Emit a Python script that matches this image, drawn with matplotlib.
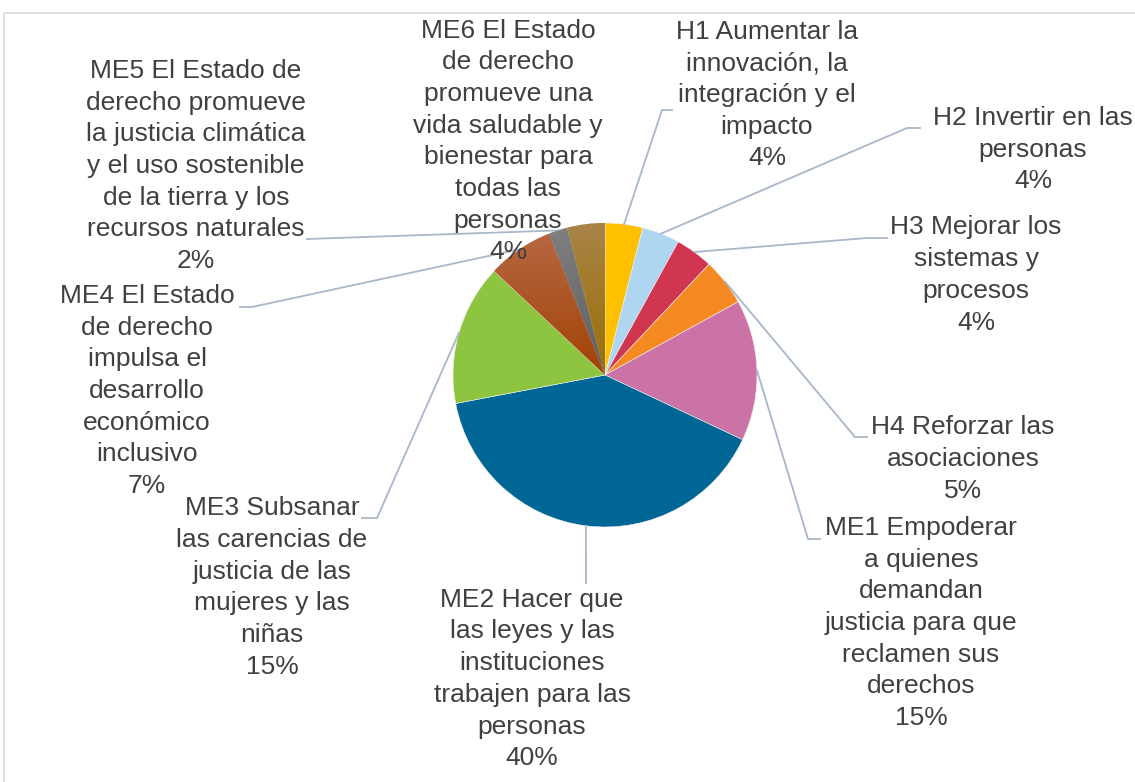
import numpy as np
import matplotlib
matplotlib.use("Agg")
import matplotlib.pyplot as plt
from matplotlib.colors import LinearSegmentedColormap

plt.rcParams['font.family'] = ['Liberation Sans', 'DejaVu Sans']

# ---------------- data ----------------
labels = [
    "H1 Aumentar la\ninnovación, la\nintegración y el\nimpacto",
    "H2 Invertir en las\npersonas",
    "H3 Mejorar los\nsistemas y\nprocesos",
    "H4 Reforzar las\nasociaciones",
    "ME1 Empoderar\na quienes\ndemandan\njusticia para que\nreclamen sus\nderechos",
    "ME2 Hacer que\nlas leyes y las\ninstituciones\ntrabajen para las\npersonas",
    "ME3 Subsanar\nlas carencias de\njusticia de las\nmujeres y las\nniñas",
    "ME4 El Estado\nde derecho\nimpulsa el\ndesarrollo\neconómico\ninclusivo",
    "ME5 El Estado de\nderecho promueve\nla justicia climática\ny el uso sostenible\nde la tierra y los\nrecursos naturales",
    "ME6 El Estado\nde derecho\npromueve una\nvida saludable y\nbienestar para\ntodas las\npersonas",
]
values = [4, 4, 4, 5, 15, 40, 15, 7, 2, 4]
pct_labels = ["4%", "4%", "4%", "5%", "15%", "40%", "15%", "7%", "2%", "4%"]

# ---------------- style / layout ----------------
W, H = 1135, 782
colors = ["#FFC000", "#AED6F1", "#D13651", "#F58A22", "#CB73A6",
          "#006695", "#8DC540", "#A84F22", "#6E6E6E", "#A07A22"]
# gradient (top, bottom) for slices drawn with gradient fill
gradients = {7: ("#B86A48", "#A04000"),
             8: ("#808080", "#5E5E5E"),
             9: ("#A98448", "#9A6D00")}
cx, cy, R = 605, 375, 152          # image pixel coords
label_pos = [(767, 95), (1033, 149.5), (976, 275), (963, 459), (921, 623),
             (532, 679), (272, 587.5), (147, 391), (196, 166), (508, 141.5)]
leader_pts = [
    [(672, 110), (662, 110)],
    [(920, 128), (907, 128)],
    [(887, 238), (867, 238)],
    [(867, 437), (855, 437)],
    [(820, 539), (808, 539)],
    [(586, 583)],
    [(362, 518), (377, 518)],
    [(240, 307), (252, 307)],
    [(307, 239)],
    None,
]
text_color = "#404040"
line_color = "#A9B7C9"

fig = plt.figure(figsize=(W / 100, H / 100), dpi=100)
ax = fig.add_axes([0, 0, 1, 1])

def Y(y):
    return H - y

wedges, _ = ax.pie(values, colors=colors, startangle=90, counterclock=False,
                   center=(cx, Y(cy)), radius=R, frame=True,
                   wedgeprops=dict(edgecolor="#F2F2F2", linewidth=0.4))
ax.set_xlim(0, W)
ax.set_ylim(0, H)
ax.axis("off")

# border of chart area
ax.plot([4, W], [Y(13), Y(13)], color="#D9D9D9", lw=1.2, solid_capstyle="butt")
ax.plot([4, 4], [Y(13), 0], color="#D9D9D9", lw=1.2, solid_capstyle="butt")

# gradient fills
for i, (ctop, cbot) in gradients.items():
    w = wedges[i]
    cmap = LinearSegmentedColormap.from_list("g%d" % i, [cbot, ctop])
    grad = np.linspace(0, 1, 256).reshape(-1, 1)
    im = ax.imshow(grad, cmap=cmap, origin="lower", aspect="auto",
                   extent=(cx - R, cx + R, Y(cy) - R * 0.05, Y(cy) + R),
                   zorder=w.get_zorder() + 0.1, interpolation="bilinear")
    im.set_clip_path(w)
ax.set_xlim(0, W)
ax.set_ylim(0, H)

# leader lines
for i, w in enumerate(wedges):
    pts = leader_pts[i]
    if pts is None:
        continue
    mid = np.deg2rad((w.theta1 + w.theta2) / 2)
    ex, ey = cx + R * np.cos(mid), Y(cy) + R * np.sin(mid)
    xs = [p[0] for p in pts] + [ex]
    ys = [Y(p[1]) for p in pts] + [ey]
    ax.plot(xs, ys, color=line_color, lw=1.3, zorder=1)

# labels
for i, (lab, pct) in enumerate(zip(labels, pct_labels)):
    x, y = label_pos[i]
    ax.text(x, Y(y), lab + "\n" + pct, ha="center", va="center",
            multialignment="center", fontsize=19, color=text_color,
            linespacing=1.405, zorder=5)

fig.savefig("out.png", dpi=100)
